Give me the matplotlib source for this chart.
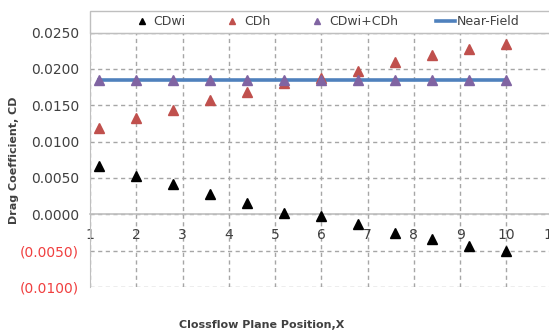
import matplotlib
matplotlib.use("Agg")
import matplotlib.pyplot as plt
from matplotlib.patches import Rectangle

# values
positions = [1.2, 2.0, 2.8, 3.6, 4.4, 5.2, 6.0, 6.8, 7.6, 8.4, 9.2, 10.0]
cdwi = [0.0066, 0.0053, 0.0041, 0.0028, 0.0016, 0.0002,
        -0.0003, -0.0013, -0.0026, -0.0034, -0.0044, -0.0051]
cdh = [0.0118, 0.0132, 0.0144, 0.0157, 0.0168, 0.0180,
       0.0187, 0.0197, 0.0209, 0.0219, 0.0227, 0.0234]
cdwi_cdh = [0.0184, 0.0184, 0.0184, 0.0184, 0.0184, 0.0184,
            0.0184, 0.0184, 0.0184, 0.0184, 0.0184, 0.0184]
near_field_x = [1.2, 10.0]
near_field = [0.0184, 0.0184]

x_ticks = [1, 2, 3, 4, 5, 6, 7, 8, 9, 10, 11]
y_ticks = [-0.010, -0.005, 0.0, 0.005, 0.010, 0.015, 0.020, 0.025]

grey = "#404040"
red_txt = "#F04040"
grid_c = "#A6A6A6"
frame_c = "#BFBFBF"

fig = plt.figure(figsize=(5.49, 3.36), dpi=100)
ax = fig.add_axes([90 / 549, 1 - 287 / 336, 472 / 549, 254.5 / 336])

ax.plot(near_field_x, near_field, color="#4F81BD", lw=2.6, zorder=3, label="Near-Field")
ax.plot(positions, cdwi, "^", color="black", ms=6.5, zorder=4, label="CDwi")
ax.plot(positions, cdh, "^", color="#C0504D", ms=6.5, zorder=4, label="CDh")
ax.plot(positions, cdwi_cdh, "^", color="#8064A2", ms=6.5, zorder=5, label="CDwi+CDh")

ax.set_xlim(1, 11.2)
ax.set_ylim(-0.010, 0.025)
ax.set_xticks(x_ticks)
ax.set_yticks(y_ticks)


def fmt(v):
    if v < 0:
        return "({:.4f})".format(-v)
    return "{:.4f}".format(v)


ax.set_yticklabels([fmt(v) for v in y_ticks])
ax.tick_params(axis="both", length=0, labelsize=10, colors=grey)
ax.tick_params(axis="y", pad=8)
ax.tick_params(axis="x", pad=10)
for tick, v in zip(ax.yaxis.get_major_ticks(), y_ticks):
    if v < 0:
        tick.label1.set_color(red_txt)

ax.grid(True, color=grid_c, linestyle=(0, (3, 2.5)), lw=1)
ax.set_axisbelow(True)

ax.spines["bottom"].set_position(("data", 0))
ax.spines["bottom"].set_color(frame_c)
ax.spines["bottom"].set_linewidth(1.2)
ax.spines["left"].set_color(frame_c)
ax.spines["top"].set_color(frame_c)
ax.spines["right"].set_visible(False)

# legend box along the top of the plot
ax.add_patch(Rectangle((0, 1), 1, 0.085, transform=ax.transAxes, fill=False,
                       edgecolor=frame_c, lw=1, clip_on=False))
handles, labels = ax.get_legend_handles_labels()
order = [1, 2, 3, 0]
leg = ax.legend([handles[i] for i in order], [labels[i] for i in order],
                loc="center", bbox_to_anchor=(0, 1, 1, 0.085),
                ncol=4, borderaxespad=0, fontsize=9, markerscale=0.65,
                frameon=False, handlelength=1.5, handletextpad=0.2,
                columnspacing=3.0)
for t in leg.get_texts():
    t.set_color(grey)

ax.set_ylabel("Drag Coefficient, CD", fontsize=8, fontweight="bold", color=grey)
ax.yaxis.set_label_coords(-0.150, 0.5)
fig.text(262 / 549, 1 - 325 / 336, "Clossflow Plane Position,X", fontsize=8,
         fontweight="bold", color=grey, ha="center", va="center")

fig.savefig("out.png", dpi=100)
